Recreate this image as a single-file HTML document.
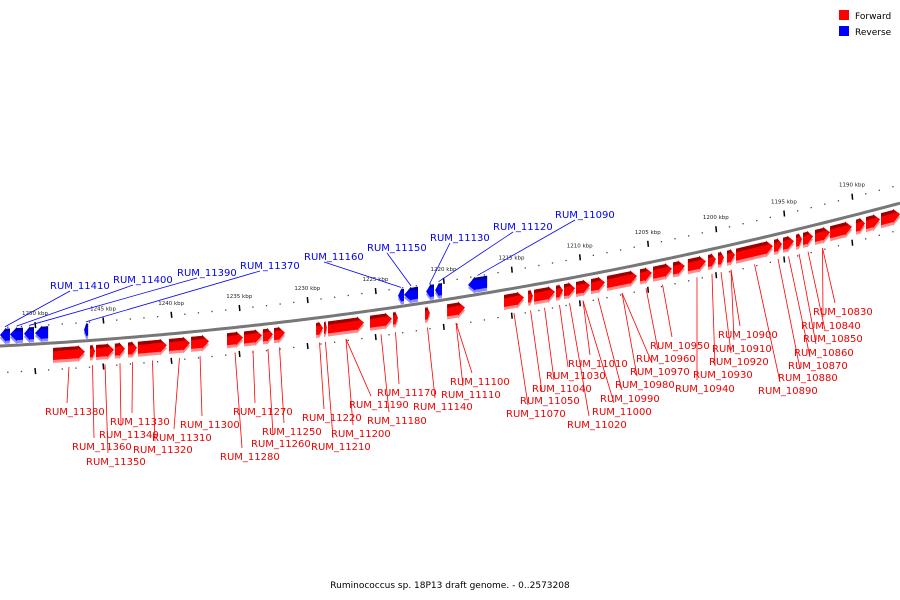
<!DOCTYPE html>
<html><head><meta charset="utf-8"><style>
html,body{margin:0;padding:0;background:#fff}
svg{display:block;font-family:"DejaVu Sans","Liberation Sans",sans-serif}
</style></head><body>
<svg id="chart" width="900" height="600" viewBox="0 0 900 600">
<g id="ticks"></g>
<path id="backbone" fill="none" stroke="#777" stroke-width="3"/>
<g id="genes"></g>
<g id="labels"></g>
<g>
<rect x="839" y="10" width="10" height="10" fill="#f00"/>
<text x="855" y="19" font-size="9" fill="#000">Forward</text>
<rect x="839" y="26" width="10" height="10" fill="#00f"/>
<text x="855" y="35" font-size="9" fill="#000">Reverse</text>
</g>
<text x="450" y="588" font-size="9" text-anchor="middle" fill="#000">Ruminococcus sp. 18P13 draft genome. - 0..2573208</text>
</svg>
<script>
// data (kbp)
const fwdStart=[1248.68,1245.96,1245.52,1244.13,1243.17,1242.44,1240.16,1238.54,1235.9,1234.65,1233.26,1232.45,1229.36,1228.78,1228.48,1225.4,1223.71,1221.36,1219.74,1215.56,1213.79,1213.35,1211.74,1211.15,1210.27,1209.17,1207.99,1205.57,1204.61,1203.15,1202.05,1200.58,1199.84,1199.18,1198.52,1195.73,1195.07,1194.11,1193.6,1192.72,1191.61,1189.71,1188.97,1187.87];
const fwdEnd=[1246.33,1245.59,1244.2,1243.39,1242.51,1240.31,1238.62,1237.22,1234.72,1233.33,1232.52,1231.64,1228.85,1228.56,1225.84,1223.78,1223.34,1221.0,1218.42,1214.09,1213.43,1211.81,1211.22,1210.34,1209.24,1208.14,1205.79,1204.69,1203.22,1202.27,1200.72,1199.99,1199.4,1198.59,1195.8,1195.14,1194.26,1193.67,1192.86,1191.61,1190.0,1189.05,1187.94,1186.47];
const revStart=[1252.57,1251.84,1250.81,1250.0,1246.4,1223.34,1222.9,1221.28,1220.62,1218.2];
const revEnd=[1251.84,1250.88,1250.07,1249.04,1246.1,1222.9,1221.87,1220.7,1220.11,1216.8];
const fwdNames=["RUM_11380","RUM_11360","RUM_11350","RUM_11340","RUM_11330","RUM_11320","RUM_11310","RUM_11300","RUM_11280","RUM_11270","RUM_11260","RUM_11250","RUM_11220","RUM_11210","RUM_11200","RUM_11190","RUM_11180","RUM_11170","RUM_11140","RUM_11110","RUM_11100","RUM_11070","RUM_11050","RUM_11040","RUM_11030","RUM_11020","RUM_11010","RUM_11000","RUM_10990","RUM_10980","RUM_10970","RUM_10960","RUM_10950","RUM_10940","RUM_10930","RUM_10920","RUM_10910","RUM_10900","RUM_10890","RUM_10880","RUM_10870","RUM_10860","RUM_10850","RUM_10840","RUM_10830"];
const fwdGene=[0,1,2,3,4,5,6,7,8,9,10,11,12,13,14,14,15,16,17,18,18,19,20,21,22,23,24,24,25,26,26,27,28,30,31,32,33,33,34,35,36,37,38,39,39];
const revNames=["RUM_11410","RUM_11400","RUM_11390","RUM_11370","RUM_11160","RUM_11150","RUM_11130","RUM_11120","RUM_11090"];
const revGene=[0,1,2,4,5,6,7,8,9];
const tickKbp=[1190,1195,1200,1205,1210,1215,1220,1225,1230,1235,1240,1245,1250];
// layout
const fwdLabelXY=[[45,411],[72,446],[86,461],[99,434],[110,421],[133,449],[152,437],[180,424],[220,456],[233,411],[251,443],[262,431],[302,417],[311,446],[331,433],[349,404],[367,420],[377,392],[413,406],[441,394],[450,381],[506,413],[520,400],[532,388],[546,375],[567,424],[568,363],[592,411],[600,398],[615,384],[630,371],[636,358],[650,345],[675,388],[693,374],[709,361],[712,348],[718,334],[758,390],[778,377],[788,365],[794,352],[803,338],[801,325],[813,311]];
const revLabelXY=[[50,285],[113,279],[177,272],[240,265],[304,256],[367,247],[430,237],[493,226],[555,214]];

const NS="http://www.w3.org/2000/svg";
function X(k){return 35+(1250-k)*13.617;}
function B(x){return 346-0.0507*x-0.00012*x*x;}
function mk(tag,attrs,parent){const e=document.createElementNS(NS,tag);for(const k in attrs)e.setAttribute(k,attrs[k]);parent.appendChild(e);return e;}
let d="M0 "+B(0);for(let x=5;x<=900;x+=5)d+=" L"+x+" "+B(x).toFixed(2);
document.getElementById('backbone').setAttribute('d',d);
const tg=document.getElementById('ticks');
for(let k=1186;k<=1253;k++){const x=X(k);if(x<0||x>900)continue;
 const isMajor=tickKbp.includes(k);
 if(isMajor){
  const t=mk('line',{x1:x,y1:B(x)-22,x2:x+0.6,y2:B(x)-16,stroke:'#000','stroke-width':1.5},tg);
  
  
  const t2=mk('line',{x1:x,y1:B(x)+24,x2:x+0.6,y2:B(x)+30,stroke:'#000','stroke-width':1.5},tg);
  
  
  const l=mk('text',{x:x,y:B(x)-29,'font-size':5.5,'text-anchor':'middle',fill:'#222'},tg);l.textContent=k+' kbp';
  
  
 }else{
  mk('rect',{x:x-0.6,y:B(x)-19,width:1.3,height:1.3,fill:'#444'},tg);
  mk('rect',{x:x-0.6,y:B(x)+26,width:1.3,height:1.3,fill:'#444'},tg);
 }
}
const gg=document.getElementById('genes');
function pts(a){return a.map(p=>p[0].toFixed(1)+','+p[1].toFixed(1)).join(' ');}
function fwd(x1,x2,i){const h=Math.min(7,(x2-x1)*0.6),xh=x2-h;const g=mk('g',{},gg);
 
 
 const poly=(o,c)=>mk('polygon',{points:pts([[x1,B(x1)+5+o],[xh,B(xh)+5+o],[xh,B(xh)+4+o],[x2,B(x2)+11+o],[xh,B(xh)+18+o],[xh,B(xh)+17+o],[x1,B(x1)+17+o]]),fill:c},g);
 poly(3,'#ff8c8c');poly(0,'#ff0000');
 mk('polygon',{points:pts([[x1,B(x1)+5],[xh,B(xh)+5],[xh,B(xh)+4],[xh+h*0.45,B(xh)+7.5],[x1,B(x1)+8.5]]),fill:'#9b0000'},g);}
function rev(x1,x2,i){const h=Math.min(7,(x2-x1)*0.6),xh=x1+h;const g=mk('g',{},gg);
 
 
 const poly=(o,c)=>mk('polygon',{points:pts([[x2,B(x2)-17+o],[xh,B(xh)-17+o],[xh,B(xh)-18+o],[x1,B(x1)-11+o],[xh,B(xh)-4+o],[xh,B(xh)-5+o],[x2,B(x2)-5+o]]),fill:c},g);
 poly(3,'#8c8cff');poly(0,'#0000ff');
 mk('polygon',{points:pts([[x2,B(x2)-17],[xh,B(xh)-17],[xh,B(xh)-18],[xh-h*0.45,B(xh)-14.5],[x2,B(x2)-13.5]]),fill:'#00009b'},g);}
fwdStart.forEach((s,i)=>fwd(X(s),X(fwdEnd[i]),i));
revStart.forEach((s,i)=>rev(X(s),X(revEnd[i]),i));
const lg=document.getElementById('labels');
fwdNames.forEach((n,i)=>{const gi=fwdGene[i];const m=(X(fwdStart[gi])+X(fwdEnd[gi]))/2;const [lx,ly]=fwdLabelXY[i];
 const ln=mk('line',{x1:m,y1:B(m)+25,x2:lx+22,y2:ly-8,stroke:'#f00','stroke-width':0.8},lg);
 
 
 const t=mk('text',{x:lx,y:ly+4,'font-size':10,fill:'#e00'},lg);t.textContent=n;
 
 });
revNames.forEach((n,i)=>{const gi=revGene[i];const m=(X(revStart[gi])+X(revEnd[gi]))/2;const [lx,ly]=revLabelXY[i];
 const ln=mk('line',{x1:m,y1:B(m)-19,x2:lx+20,y2:ly+6,stroke:'#00f','stroke-width':0.8},lg);
 
 
 const t=mk('text',{x:lx,y:ly+4,'font-size':10,fill:'#00e'},lg);t.textContent=n;
 
 });
</script>
</body></html>
